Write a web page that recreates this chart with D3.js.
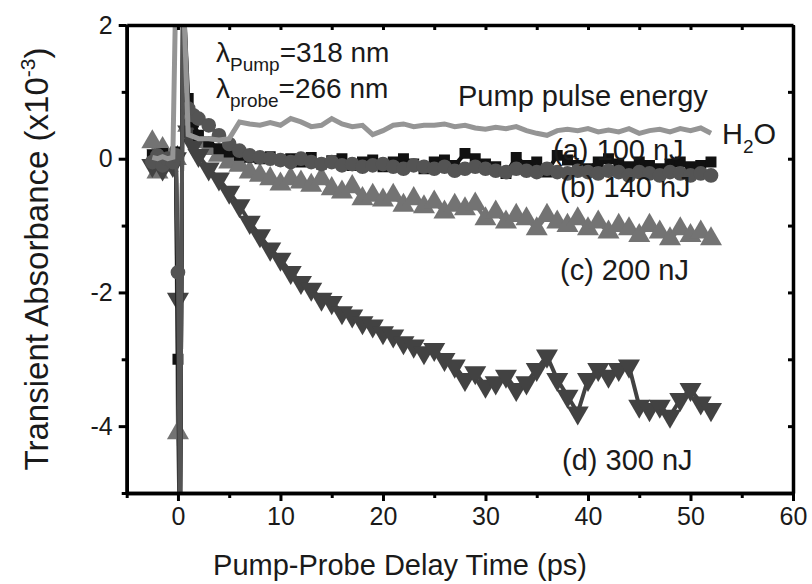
<!DOCTYPE html>
<html lang="en">
<head>
    <title>Transient absorbance</title>
    <script src="https://d3js.org/d3.v7.min.js"></script>
    <style>
        body { margin: 0; background: #fff; }
        text { font-family: Arial, "Liberation Sans", sans-serif; fill: #1a1a1a; }
    </style>
</head>
<body>

<script>
    // delay times (ps), shared by all traces
    const times = [-2.5, -2, -1.5, -1, -0.5, -0.2, 0, 0.2, 0.5, 1, 1.5,
        2, 3, 4, 5, 6, 7, 8, 9, 10, 11, 12, 13, 14, 15, 16, 17, 18, 19, 20,
        21, 22, 23, 24, 25, 26, 27, 28, 29, 30, 31, 32, 33, 34, 35, 36, 37, 38, 39, 40,
        41, 42, 43, 44, 45, 46, 47, 48, 49, 50, 51, 52];

    // transient absorbance (x1e-3)
    const water = [0.02, 0.0, 0.03, 0.0, 0.02, 2.6, 2.6, 2.6, 2.6, 0.36, 0.33,
        0.3, 0.3, 0.28, 0.3, 0.55, 0.52, 0.5, 0.54, 0.5, 0.6, 0.55, 0.48, 0.5, 0.6, 0.52, 0.48, 0.5, 0.36, 0.42,
        0.5, 0.52, 0.48, 0.5, 0.5, 0.52, 0.48, 0.5, 0.46, 0.44, 0.47, 0.45, 0.48, 0.42, 0.38, 0.35, 0.42, 0.44, 0.42, 0.45,
        0.4, 0.43, 0.4, 0.45, 0.38, 0.42, 0.44, 0.4, 0.45, 0.42, 0.46, 0.38];
    const e100 = [0.05, 0.0, 0.08, -0.05, 0.02, 0.1, -3.0, -5.6, 2.6, 0.9, 0.55,
        0.35, 0.25, 0.15, 0.1, 0.05, 0.02, 0.0, 0.03, -0.02, 0.0, -0.05, 0.02, -0.08, -0.03, 0.0, -0.1, -0.05, -0.02, -0.12,
        -0.05, 0.0, -0.08, -0.15, -0.05, -0.02, -0.1, 0.08, 0.0, -0.08, -0.12, -0.22, 0.02, -0.1, -0.05, -0.2, 0.05, -0.02, -0.1, -0.15,
        -0.05, 0.0, -0.08, -0.12, -0.05, -0.1, -0.15, -0.08, -0.05, -0.12, -0.1, -0.05];
    const e140 = [-0.05, 0.05, -0.1, 0.0, -0.05, 0.05, -1.7, -5.6, 2.6, 0.75, 0.65,
        0.6, 0.5, 0.35, 0.22, 0.12, 0.05, 0.02, 0.0, -0.02, -0.05, 0.0, -0.05, -0.08, -0.05, -0.1, -0.08, -0.12, -0.1, -0.08,
        -0.12, -0.15, -0.1, -0.12, -0.15, -0.12, -0.18, -0.15, -0.12, -0.15, -0.18, -0.2, -0.15, -0.18, -0.2, -0.15, -0.2, -0.22, -0.18, -0.2,
        -0.22, -0.18, -0.2, -0.25, -0.2, -0.22, -0.25, -0.2, -0.22, -0.25, -0.22, -0.25];
    const e200 = [0.25, -0.2, 0.15, -0.1, 0.05, 0.0, -4.1, -5.6, 2.6, 0.5, 0.35,
        0.25, 0.15, 0.05, -0.05, -0.1, -0.2, -0.25, -0.3, -0.38, -0.3, -0.35, -0.4, -0.3, -0.45, -0.5, -0.42, -0.6, -0.55, -0.62,
        -0.55, -0.7, -0.6, -0.72, -0.65, -0.8, -0.7, -0.75, -0.68, -0.9, -0.8, -0.95, -0.85, -0.9, -1.05, -0.85, -0.95, -1.0, -0.9, -1.05,
        -0.95, -1.1, -1.0, -1.05, -1.15, -1.0, -1.1, -1.2, -1.05, -1.15, -1.1, -1.2];
    const e300 = [-0.1, 0.05, -0.15, 0.0, -0.1, 0.0, -2.1, -5.6, 2.6, 0.4, 0.2,
        0.05, -0.15, -0.3, -0.5, -0.7, -0.95, -1.15, -1.35, -1.5, -1.7, -1.85, -1.95, -2.1, -2.15, -2.3, -2.35, -2.45, -2.5, -2.6,
        -2.65, -2.75, -2.8, -2.9, -2.85, -3.0, -3.1, -3.3, -3.2, -3.4, -3.35, -3.25, -3.45, -3.35, -3.15, -2.95, -3.3, -3.55, -3.8, -3.3,
        -3.15, -3.25, -3.15, -3.1, -3.7, -3.75, -3.7, -3.85, -3.6, -3.45, -3.65, -3.75];

    const xTicks = [0, 10, 20, 30, 40, 50, 60];
    const xMinor = [-5, 5, 15, 25, 35, 45, 55];
    const yTicks = [-4, -2, 0, 2];
    const yMinor = [-5, -3, -1, 1];

    const W = 812, H = 584;
    const x = d3.scaleLinear().domain([-5, 60]).range([126.7, 793]);
    const y = d3.scaleLinear().domain([-5, 2]).range([493, 25]);

    const svg = d3.select("body").append("svg").attr("width", W).attr("height", H);

    svg.append("clipPath").attr("id", "plot")
        .append("rect").attr("x", x(-5)).attr("y", y(2))
        .attr("width", x(60) - x(-5)).attr("height", y(-5) - y(2));

    // drawing order: circles end up over the black squares, as in the figure
    const series = [
        {name: "200", vals: e200, color: "#737373", sym: d3.symbolTriangle, size: 210, rot: 0},
        {name: "300", vals: e300, color: "#424242", sym: d3.symbolTriangle, size: 210, rot: 180},
        {name: "100", vals: e100, color: "#111111", sym: d3.symbolSquare, size: 120, rot: 0},
        {name: "140", vals: e140, color: "#545454", sym: d3.symbolCircle, size: 170, rot: 0}
    ];

    const line = d3.line().x((d, i) => x(times[i])).y(d => y(d));
    const plot = svg.append("g").attr("clip-path", "url(#plot)");

    series.forEach(s => {
        const g = plot.append("g");
        g.append("path").datum(s.vals)
            .attr("d", line)
            .attr("fill", "none")
            .attr("stroke", s.color)
            .attr("stroke-width", 4);
        g.selectAll("path.pt")
            .data(s.vals).enter()
            .append("path").attr("class", "pt")
            .attr("d", d3.symbol().type(s.sym).size(s.size))
            .attr("transform", (d, i) => `translate(${x(times[i])},${y(d)}) rotate(${s.rot})`)
            .attr("fill", s.color);
    });

    plot.append("path").datum(water)
        .attr("d", line)
        .attr("fill", "none")
        .attr("stroke", "#959595")
        .attr("stroke-width", 5);

    // axes
    const frame = svg.append("g").attr("class", "frame");
    const styleAxis = g => {
        g.select(".domain").attr("stroke", "#000").attr("stroke-width", 3.5);
        g.selectAll(".tick line").attr("stroke", "#000").attr("stroke-width", 3);
        g.selectAll(".tick text").style("font-size", "25px").attr("fill", "#1a1a1a");
    };
    const fmt = d => String(d);

    frame.append("g").attr("transform", `translate(0,${y(-5)})`)
        .call(d3.axisBottom(x).tickValues(xMinor).tickSize(5).tickFormat("").tickSizeOuter(0))
        .call(styleAxis);
    frame.append("g").attr("transform", `translate(0,${y(-5)})`)
        .call(d3.axisBottom(x).tickValues(xTicks).tickSize(8).tickPadding(6).tickFormat(fmt).tickSizeOuter(0))
        .call(styleAxis);
    frame.append("g").attr("transform", `translate(${x(-5)},0)`)
        .call(d3.axisLeft(y).tickValues(yMinor).tickSize(5).tickFormat("").tickSizeOuter(0))
        .call(styleAxis);
    frame.append("g").attr("transform", `translate(${x(-5)},0)`)
        .call(d3.axisLeft(y).tickValues(yTicks).tickSize(8).tickPadding(6).tickFormat(fmt).tickSizeOuter(0))
        .call(styleAxis);
    frame.append("g").attr("transform", `translate(0,${y(2)})`)
        .call(d3.axisTop(x).tickValues(xTicks.concat(xMinor)).tickSize(-5).tickFormat("").tickSizeOuter(0))
        .call(styleAxis);
    frame.append("g").attr("transform", `translate(${x(60)},0)`)
        .call(d3.axisRight(y).tickValues(yTicks.concat(yMinor)).tickSize(-5).tickFormat("").tickSizeOuter(0))
        .call(styleAxis);

    // axis titles
    svg.append("text")
        .attr("x", 400).attr("y", 575)
        .attr("text-anchor", "middle")
        .style("font-size", "29px")
        .text("Pump-Probe Delay Time (ps)");

    const yt = svg.append("text")
        .attr("transform", `translate(48,${(y(2) + y(-5)) / 2}) rotate(-90)`)
        .attr("text-anchor", "middle")
        .style("font-size", "33px");
    yt.append("tspan").text("Transient Absorbance (x10");
    yt.append("tspan").attr("dy", -13).style("font-size", "21px").text("-3");
    yt.append("tspan").attr("dy", 13).text(")");

    // annotations
    const note = (tx, ty, parts, size) => {
        const t = svg.append("text").attr("x", tx).attr("y", ty).style("font-size", size);
        parts.forEach(p => {
            t.append("tspan").attr("dy", p.dy || 0)
                .style("font-size", p.size || size).text(p.text);
        });
    };
    note(216, 62, [{text: "λ"}, {text: "Pump", dy: 9, size: "19px"}, {text: "=318 nm", dy: -9}], "28px");
    note(216, 98, [{text: "λ"}, {text: "probe", dy: 9, size: "19px"}, {text: "=266 nm", dy: -9}], "28px");
    note(458, 106, [{text: "Pump pulse energy"}], "29px");
    note(722, 144, [{text: "H"}, {text: "2", dy: 9, size: "19px"}, {text: "O", dy: -9}], "29px");
    note(553, 160, [{text: "(a) 100 nJ"}], "29px");
    note(560, 197, [{text: "(b) 140 nJ"}], "29px");
    note(560, 280, [{text: "(c) 200 nJ"}], "29px");
    note(562, 470, [{text: "(d) 300 nJ"}], "29px");
</script>

</body>
</html>
